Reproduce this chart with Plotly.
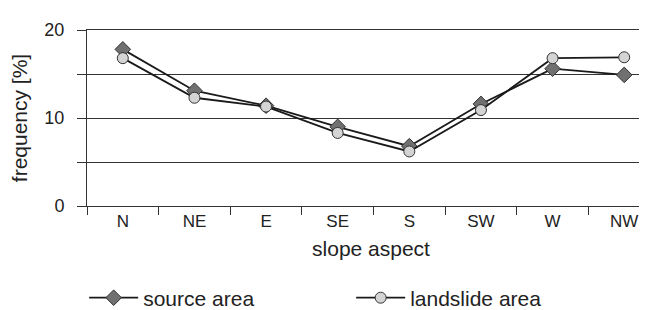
import plotly.graph_objects as go

categories = ["N", "NE", "E", "SE", "S", "SW", "W", "NW"]
source_area = [17.8, 13.1, 11.4, 9.0, 6.8, 11.6, 15.6, 14.9]
landslide_area = [16.8, 12.3, 11.3, 8.3, 6.2, 10.9, 16.8, 16.9]
y_tickvals = [0, 5, 10, 15, 20]
y_ticktext = ["0", "", "10", "", "20"]

FONT = "Liberation Sans, Arial, sans-serif"
TXT = "#222222"
LINE = "#333333"

fig = go.Figure()
fig.add_trace(go.Scatter(
    x=categories, y=source_area, name="source area", mode="lines+markers",
    line=dict(color="#1a1a1a", width=1.8),
    marker=dict(symbol="diamond", size=12, color="#707070",
                line=dict(color="#333333", width=1)),
))
fig.add_trace(go.Scatter(
    x=categories, y=landslide_area, name="landslide area", mode="lines+markers",
    line=dict(color="#1a1a1a", width=1.8),
    marker=dict(symbol="circle", size=11, color="#d4d4d4",
                line=dict(color="#333333", width=1)),
))

fig.update_layout(
    width=647, height=310,
    margin=dict(l=79, r=0, t=22, b=112, autoexpand=False),
    paper_bgcolor="white", plot_bgcolor="white",
    font=dict(family=FONT, size=17, color=TXT),
    showlegend=True,
    legend=dict(orientation="h", x=-0.005, xanchor="left", y=-0.523, yanchor="middle",
                font=dict(size=21, color=TXT), itemwidth=49, entrywidth=203,
                bgcolor="rgba(0,0,0,0)"),
)
fig.update_xaxes(
    type="category", range=[-0.5, 7.43], tickson="boundaries",
    ticks="outside", ticklen=8, tickcolor=LINE, tickwidth=1,
    showgrid=False, showline=True, linecolor=LINE, linewidth=1, mirror=True,
    zeroline=False,
    tickfont=dict(size=17, color=TXT),
    title=dict(text="slope aspect", font=dict(size=21, color=TXT), standoff=10),
)
fig.update_yaxes(
    range=[0, 20], tickvals=y_tickvals, ticktext=y_ticktext,
    ticks="outside", ticklen=9, tickcolor=LINE, tickwidth=1,
    showgrid=True, gridcolor=LINE, gridwidth=1,
    showline=True, linecolor=LINE, linewidth=1, zeroline=False,
    ticklabelstandoff=9,
    tickfont=dict(size=18, color=TXT),
    title=dict(text="frequency [%]", font=dict(size=21, color=TXT), standoff=12),
)

fig.write_html("out.html")
